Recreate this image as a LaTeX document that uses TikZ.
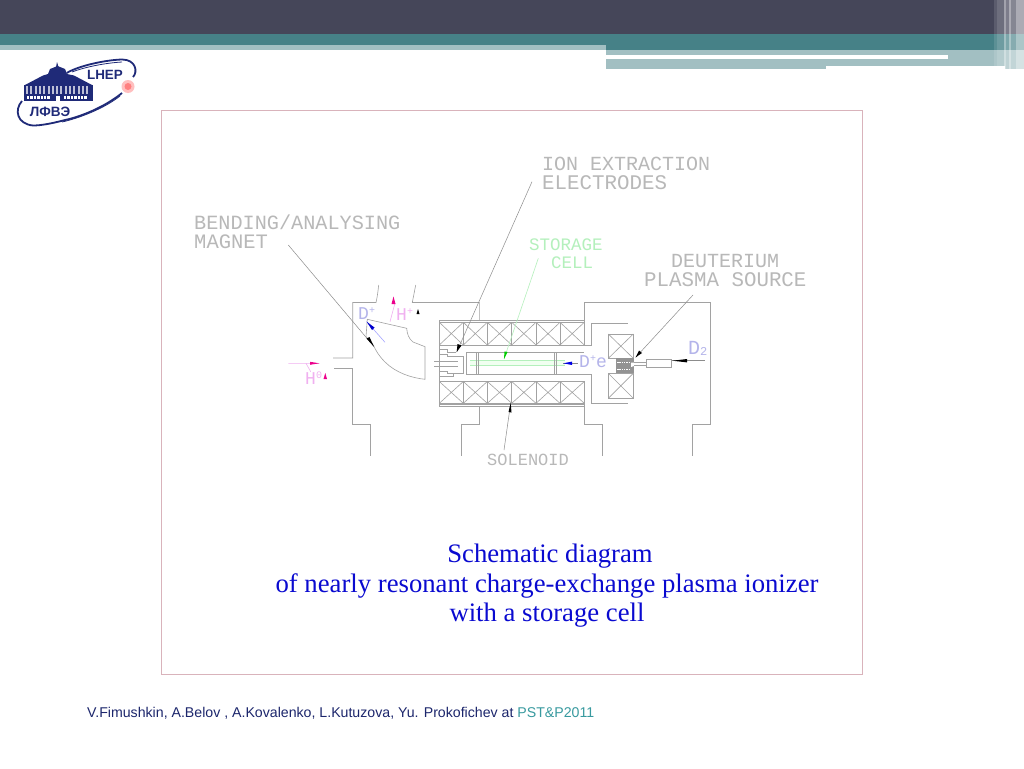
\documentclass[tikz,border=0pt]{standalone}
\usepackage{fontspec}
\setmainfont{Liberation Serif}
\setsansfont{Liberation Sans}
\newfontfamily\cadfont{Liberation Mono}
\usetikzlibrary{arrows.meta}
\definecolor{hdark}{HTML}{454659}
\definecolor{hteal}{HTML}{468187}
\definecolor{hlight}{HTML}{A2BFC2}
\definecolor{framepink}{HTML}{D9B3BB}
\definecolor{cadline}{HTML}{A2A2A2}
\definecolor{leadline}{HTML}{8C8C8C}
\definecolor{cadtext}{HTML}{B8B8B8}
\definecolor{cadgreen}{HTML}{B4F0BC}
\definecolor{lav}{HTML}{B4B4EA}
\definecolor{pinkt}{HTML}{F0B0F0}
\definecolor{navy}{HTML}{1F2A78}
\definecolor{titleblue}{HTML}{0A0AD0}
\tikzset{
  cad/.style={draw=cadline,line width=0.6pt},
  cadlabel/.style={text=cadtext,anchor=base west,inner sep=0pt,font=\cadfont\fontsize{20}{20}\selectfont},
  leader/.style={draw=leadline,line width=0.5pt},
  blackhead/.style={fill=black,draw=none},
  titlet/.style={text=titleblue,inner sep=0pt,font=\rmfamily\fontsize{26.7}{28}\selectfont},
  beamlabel/.style={inner sep=0pt,anchor=base west,font=\cadfont\fontsize{18}{18}\selectfont},
}
\newcommand{\cadup}[1]{\raisebox{0.55ex}{\fontsize{10}{10}\selectfont #1}}
\newcommand{\caddown}[1]{\raisebox{-0.1ex}{\fontsize{12}{12}\selectfont #1}}
\newcommand{\coilrow}[2]{%
  \foreach \xa/\xb in {439.3/463.3,463.3/487.3,487.3/511.7,511.7/536,536/560,560/584.3}{
    \draw[cad] (\xa,#1) rectangle (\xb,#2);
    \draw[cad] (\xa,#1) -- (\xb,#2) (\xa,#2) -- (\xb,#1);
  }}
\begin{document}
\begin{tikzpicture}[x=1pt,y=-1pt]
\useasboundingbox (0,0) rectangle (1024,768);
\fill[white] (0,0) rectangle (1024,768);
% header
\fill[hdark] (0,0) rectangle (1024,34);
\fill[hteal] (0,34) rectangle (606,45);
\fill[hlight] (0,45) rectangle (606,50);
\fill[hteal] (606,34) rectangle (1024,50);
\fill[hlight] (606,50) rectangle (1024,66);
\fill[hlight] (606,66) rectangle (826,69);
\fill[hlight] (1005,66) rectangle (1024,69);
\fill[white] (606,55) rectangle (948,58.5);
\foreach \xa/\xb/\op in {994/997/.12,997/1004/.22,1004/1006/.5,1006/1009/.3,1009/1011/.55,1011/1016/.35,1016/1024/.55}{
  \fill[white,opacity=\op] (\xa,0) rectangle (\xb,69);
}
% logo
\draw[navy,line width=1.8pt] (66.7,73) .. controls (78,66) and (105,60) .. (122,59.5) .. controls (136,59.5) and (138,72) .. (133,77);
\draw[navy,line width=0.8pt] (72,72) .. controls (85,67) and (105,63) .. (122,62);
\draw[navy,line width=1.8pt] (122,93) .. controls (105,107) and (80,117) .. (65,120) .. controls (50,124) and (40,125.5) .. (33,125.5) .. controls (17,124) and (14,110) .. (22,101);
\draw[navy,line width=0.8pt] (120,96) .. controls (105,108) and (80,118) .. (62,122);
\fill[navy] (23.5,85) rectangle (93,101);
\fill[navy] (25,85) -- (43,75.5) -- (48,74) -- (50,69) -- (57.5,66) -- (65,69) -- (67,74) -- (74,75.5) -- (92,85) -- cycle;
\fill[navy] (57,62) -- (58.5,67) -- (56,67) -- cycle;
\foreach \i in {0,...,14}{\fill[white!70!navy] (26+4.3*\i,86) rectangle (28+4.3*\i,94);}
\foreach \i in {0,...,6}{\fill[white] (27+3.4*\i,96) rectangle (29.3+3.4*\i,98.5);\fill[white] (64+3.4*\i,96) rectangle (66.3+3.4*\i,98.5);}
\fill[white] (56,95.5) rectangle (60,101);
\node[text=navy,inner sep=0pt,font=\sffamily\bfseries\fontsize{13.4}{14}\selectfont] (lhep) at (105,75) {LHEP};
\node[text=navy,inner sep=0pt,font=\sffamily\bfseries\fontsize{13.5}{14}\selectfont] (lfve) at (50,111.5) {ЛФВЭ};
\fill[red!25!white] (128,86.5) circle (6.5);
\fill[red!50!white] (128,86.5) circle (3.5);
% frame
\draw[framepink,line width=0.9pt] (161.5,110.5) rectangle (862.5,674.5);
% housing
\draw[cad] (333,358) -- (352.7,358) -- (352.7,302.5) -- (376,302.5) .. controls (377.5,296) and (378,291) .. (378.7,285);
\draw[cad] (334,368) -- (352.7,368) -- (352.7,424.3) -- (370.7,424.3) -- (370.7,456);
\draw[cad] (415.7,285) -- (412.3,302.5) -- (479.3,302.5) -- (479.3,320);
\draw[cad] (479.3,406) -- (479.3,424.3) -- (461.3,424.3) -- (461.3,456);
\draw[cad] (584.3,345) -- (584.3,302.7) -- (710.7,302.7) -- (710.7,424.3) -- (692.3,424.3) -- (692.3,456);
\draw[cad] (584.3,406) -- (584.3,424.3) -- (602.3,424.3) -- (602.3,456);
% solenoid
\draw[cad] (439.3,320) rectangle (584.3,345);
\coilrow{322.3}{345}
\draw[cad] (439.3,381.5) rectangle (584.3,406.5);
\coilrow{381.5}{403.3}
\draw[cad] (439.3,404.5) -- (584.3,404.5);
\draw[cad] (584.3,345) -- (591.7,345) -- (591.7,323.3) -- (628.3,323.3);
\draw[cad] (466,374.5) -- (591.7,374.5) -- (591.7,403.3) -- (628.3,403.3);
\draw[cad] (466,352) -- (584.3,352);
\draw[cad] (466,352) -- (466,374.5);
% storage cell
\fill[green!6!white] (470,360) rectangle (565,365);
\draw[cadgreen,line width=0.5pt] (470,360) -- (565,360) (470,365) -- (565,365);
\draw[cad] (476.7,352) -- (476.7,374.5) (478.7,352) -- (478.7,374.5);
\draw[cad] (554.3,352) -- (554.3,374.5) (556.7,352) -- (556.7,374.5);
\draw[leader] (563,363.3) -- (578,363.3);
% extraction electrodes
\draw[cad] (439.3,345) -- (439.3,381.5);
\draw[cad] (439.3,349) -- (447,349) -- (447,352) -- (456,352);
\draw[cad] (439.3,354.5) -- (447,354.5) -- (447,356.7) -- (463.3,356.7) -- (463.3,373.3) -- (447,373.3) -- (447,371) -- (439.3,371);
\draw[cad] (439.3,376.5) -- (453,376.5) -- (453,374);
\draw[cad] (434,361) -- (458,361) (434,366.7) -- (458,366.7);
% magnet
\draw[cad] (367.3,319.3) -- (406.7,328.3) .. controls (407,334) and (409,339) .. (413,342) -- (425,346.7) -- (425,379.3) .. controls (412,378) and (396,373) .. (385,362) .. controls (379,356) and (376,351) .. (373.3,345) -- (366,336.7) -- cycle;
% source
\draw[cad] (608.3,334) rectangle (633.3,358.3);
\draw[cad] (608.3,334) -- (633.3,358.3) (608.3,358.3) -- (633.3,334);
\draw[cad] (608.3,373.3) rectangle (633.3,398.3);
\draw[cad] (608.3,373.3) -- (633.3,398.3) (608.3,398.3) -- (633.3,373.3);
\fill[gray!85] (615.7,357.7) rectangle (634,373.3);
\draw[white,line width=0.8pt,dash pattern=on 1.5pt off 0.8pt] (617,362.5) -- (630,362.5) (617,369) -- (630,369);
\fill[white] (631,362.7) -- (635,362.7) -- (635,365.7) -- (631,367) -- cycle;
\draw[cad] (634,362.7) -- (646.7,362.7) (634,365.7) -- (646.7,365.7);
\draw[cad] (646,359.3) rectangle (671.7,367.7);
\draw[leader] (671.7,360.7) -- (705,360.7);
\fill[blackhead] (672.5,360.7) -- (687,359) -- (687,362.4) -- cycle;
% leaders
\coordinate (magTail) at (288.3,245);
\coordinate (magTip) at (374,346.7);
\coordinate (ionTail) at (532,181.7);
\coordinate (ionTip) at (456.7,352);
\coordinate (cellTail) at (538.3,258.3);
\coordinate (cellTip) at (504,359);
\coordinate (solTail) at (504,450);
\coordinate (solTip) at (510.7,403);
\coordinate (srcTail) at (693,295);
\coordinate (srcTip) at (635.7,357.3);
\draw[leader] (magTail) -- (magTip);
\draw[leader] (ionTail) -- (ionTip);
\draw[cadgreen,line width=0.6pt] (cellTail) -- (cellTip);
\draw[leader] (solTail) -- (solTip);
\draw[leader] (srcTail) -- (srcTip);
\fill[blackhead] (374,346.7) -- (366.5,338.5) -- (369.5,337) -- cycle;
\fill[blackhead] (456.7,352) -- (457.5,344) -- (461.5,345.5) -- cycle;
\fill[green!80!black] (504,359) -- (504.5,351.5) -- (507.5,352) -- cycle;
\fill[blackhead] (510.7,403) -- (508.5,412) -- (511.5,412.5) -- cycle;
\fill[blackhead] (635.7,357.3) -- (639,350.5) -- (642,353) -- cycle;
% beam arrows
\draw[blue!35!white,line width=0.6pt] (366.7,321.7) -- (385,342.3);
\fill[blue!80!black] (366.7,321.7) -- (374.5,327.5) -- (372,330) -- cycle;
\fill[blue!90!black] (563.3,363.3) -- (572,361.6) -- (572,365) -- cycle;
\draw[pinkt,line width=0.6pt] (395,303) -- (390,321.7);
\fill[magenta] (393.5,296.5) -- (395.5,304) -- (391.5,304) -- cycle;
\fill[blackhead] (418,309) -- (416.5,314) -- (419.5,314) -- cycle;
\draw[pinkt,line width=0.6pt] (288.3,363.3) -- (319.3,363.3) (306,363.3) -- (310.7,371.7);
\fill[magenta] (319.3,363.3) -- (310,361.8) -- (310,364.8) -- cycle;
\fill[magenta] (325.3,373) -- (323.5,379) -- (327,379) -- cycle;
% cad labels
\node[cadlabel,font=\cadfont\fontsize{20.2}{20}\selectfont] (lblBend) at (194,229.3) {BENDING/ANALYSING};
\node[cadlabel,font=\cadfont\fontsize{20.5}{20}\selectfont] (lblMag) at (194,248) {MAGNET};
\node[cadlabel] (lblIon) at (542,170) {ION EXTRACTION};
\node[cadlabel,font=\cadfont\fontsize{20.8}{20}\selectfont] (lblElec) at (542,189) {ELECTRODES};
\node[cadlabel,text=cadgreen,font=\cadfont\fontsize{17.5}{18}\selectfont] (lblSto) at (529,250) {STORAGE};
\node[cadlabel,text=cadgreen,font=\cadfont\fontsize{17.5}{18}\selectfont] (lblCell) at (551,268) {CELL};
\node[cadlabel] (lblDeu) at (671,267) {DEUTERIUM};
\node[cadlabel,font=\cadfont\fontsize{20.8}{20}\selectfont] (lblPla) at (644,286.5) {PLASMA SOURCE};
\node[cadlabel,font=\cadfont\fontsize{17}{18}\selectfont] (lblSol) at (487,465) {SOLENOID};
% beam labels
\node[beamlabel,text=lav] (lblD) at (358,319) {D\cadup{+}};
\node[beamlabel,text=pinkt] (lblHp) at (396,320) {H\cadup{+}};
\node[beamlabel,text=pinkt] (lblH0) at (305,384) {H\cadup{0}};
\node[beamlabel,text=lav] (lblDe) at (579,367) {D\cadup{+}e};
\node[beamlabel,text=lav,font=\cadfont\fontsize{20}{20}\selectfont] (lblD2) at (688,354) {D\caddown{2}};
% title
\node[titlet] (t1) at (550,556.5) {Schematic diagram};
\node[titlet] (t2) at (547,586) {of nearly resonant charge-exchange plasma ionizer};
\node[titlet] (t3) at (547,615) {with a storage cell};
% footer
\node[anchor=west,inner sep=0pt,text=navy!90!black,font=\sffamily\fontsize{14.15}{16}\selectfont] (foot) at (87,713) {V.Fimushkin, A.Belov , A.Kovalenko, L.Kutuzova, Yu. Prokofichev at \textcolor{hteal!80!cyan}{PST\&P2011}};
\end{tikzpicture}
\end{document}
